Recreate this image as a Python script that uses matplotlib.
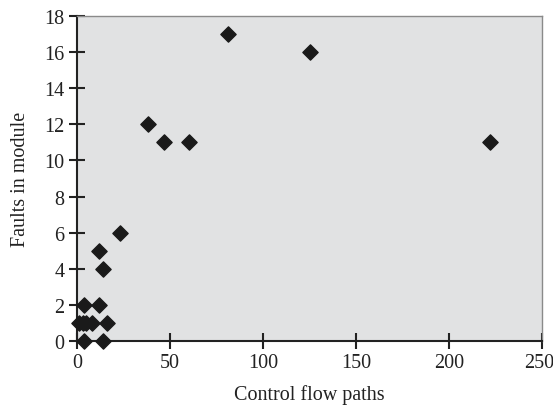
import matplotlib.pyplot as plt
from matplotlib.transforms import ScaledTranslation

# data
paths = [222, 125, 81, 60, 47, 38, 23, 12, 14, 12, 4, 1, 3, 5, 8, 16, 4, 14]
faults = [11, 16, 17, 11, 11, 12, 6, 5, 4, 2, 2, 1, 1, 1, 1, 1, 0, 0]

x_ticks = [0, 50, 100, 150, 200, 250]
y_ticks = [0, 2, 4, 6, 8, 10, 12, 14, 16, 18]

plt.rcParams['font.family'] = ['Liberation Serif', 'DejaVu Serif']

fig = plt.figure(figsize=(5.53, 4.06), dpi=100)
ax = fig.add_axes([77 / 553, 1 - 342 / 406, 465 / 553, 325 / 406])
ax.set_facecolor('#e1e2e3')

ax.scatter(paths, faults, marker='D', s=60, color='#1a1a1a', zorder=3, clip_on=False)

ax.set_xlim(0, 250)
ax.set_ylim(0, 18)
ax.set_xticks(x_ticks)
ax.set_yticks(y_ticks)

for side in ['top', 'right']:
    ax.spines[side].set_color('#8a8a8a')
    ax.spines[side].set_linewidth(1.0)
for side in ['left', 'bottom']:
    ax.spines[side].set_color('#222222')
    ax.spines[side].set_linewidth(1.5)

ax.tick_params(axis='both', direction='inout', length=11, width=1.5,
               color='#222222', labelsize=14.5, labelcolor='#222222')
ax.tick_params(axis='x', pad=3)

# nudge the last x label so it stays inside the picture
last = ax.get_xticklabels()[-1]
last.set_transform(last.get_transform() + ScaledTranslation(-3 / 100, 0, fig.dpi_scale_trans))

ax.set_xlabel('Control flow paths', fontsize=14.5, color='#222222', labelpad=9)
ax.set_ylabel('Faults in module', fontsize=14.5, color='#222222', labelpad=10)

fig.savefig('out.png', dpi=100)
